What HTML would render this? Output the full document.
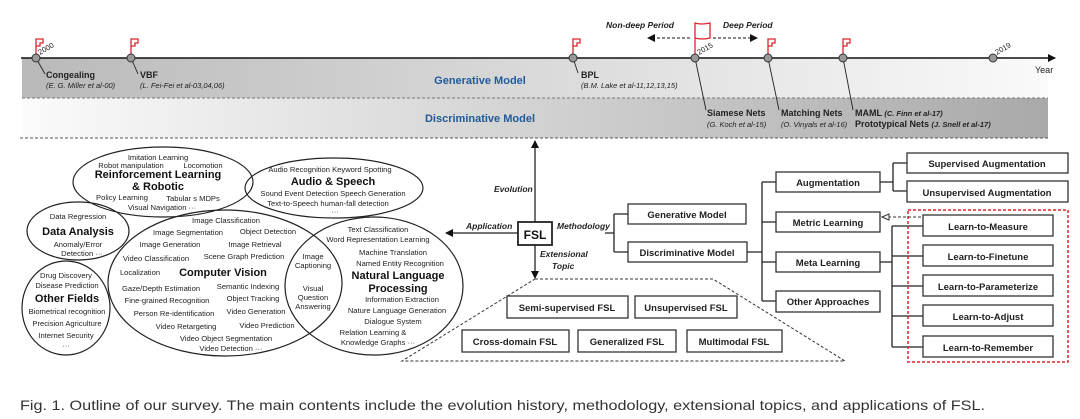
<!DOCTYPE html>
<html><head><meta charset="utf-8"><style>
html,body{margin:0;padding:0;background:#fff;}
svg{display:block;font-family:"Liberation Sans",sans-serif;}
.s{font-size:7.6px;fill:#222;text-anchor:middle;}
.b{font-size:11px;font-weight:bold;fill:#111;text-anchor:middle;}
.bx{fill:#fff;stroke:#333;stroke-width:1.3;}
.bt{font-size:9.5px;font-weight:bold;fill:#222;text-anchor:middle;}
.ln{stroke:#222;stroke-width:1.3;fill:none;}
.it{font-style:italic;font-weight:bold;font-size:8.5px;fill:#222;}
.ref{font-style:italic;font-size:7.5px;fill:#222;}
.nm{font-weight:bold;font-size:9px;fill:#222;}
</style></head><body>
<svg width="1080" height="419" viewBox="0 0 1080 419" xmlns="http://www.w3.org/2000/svg">
<defs>
<linearGradient id="g1" x1="0" x2="1"><stop offset="0" stop-color="#b9b9b9"/><stop offset="1" stop-color="#fafafa"/></linearGradient>
<linearGradient id="g2" x1="0" x2="1"><stop offset="0" stop-color="#fbfbfb"/><stop offset="1" stop-color="#a9a9a9"/></linearGradient>
<marker id="ah" markerWidth="8" markerHeight="8" refX="7" refY="4" orient="auto" markerUnits="userSpaceOnUse"><path d="M0,0 L8,4 L0,8z" fill="#111"/></marker>
<marker id="ao" markerWidth="9" markerHeight="8" refX="8" refY="4" orient="auto" markerUnits="userSpaceOnUse"><path d="M1,1 L8,4 L1,7z" fill="#fff" stroke="#333"/></marker>
</defs>
<!-- bands -->
<rect x="22" y="58" width="1026" height="40" fill="url(#g1)"/>
<rect x="22" y="98" width="1026" height="40" fill="url(#g2)"/>
<line x1="22" y1="98" x2="1048" y2="98" stroke="#777" stroke-dasharray="3,2"/>
<line x1="20" y1="138" x2="1050" y2="138" stroke="#555" stroke-dasharray="3,2"/>
<line x1="21" y1="58" x2="1055" y2="58" stroke="#111" stroke-width="1.5" marker-end="url(#ah)"/>
<text x="480" y="84" font-size="11" font-weight="bold" fill="#1f5a9a" text-anchor="middle">Generative Model</text>
<text x="480" y="122" font-size="11" font-weight="bold" fill="#1f5a9a" text-anchor="middle">Discriminative Model</text>
<text x="1035" y="73" font-size="9" fill="#222">Year</text>
<!-- flags -->
<g stroke="#d9262b" stroke-width="1.3" fill="none">
<path d="M36,56 V39 h7 v4 h-3 v3 h-4"/>
<path d="M131,56 V39 h7 v4 h-3 v3 h-4"/>
<path d="M573,56 V39 h7 v4 h-3 v3 h-4"/>
<path d="M695,56 V23 q6,2 15,0 v15 q-8,2 -15,0"/>
<path d="M768,56 V39 h7 v4 h-3 v3 h-4"/>
<path d="M843,56 V39 h7 v4 h-3 v3 h-4"/>
</g>
<!-- leader lines -->
<g stroke="#222" stroke-width="0.9">
<line x1="36" y1="58" x2="45" y2="74"/><line x1="131" y1="58" x2="138" y2="74"/>
<line x1="573" y1="58" x2="578" y2="73"/><line x1="695" y1="58" x2="706" y2="110"/>
<line x1="768" y1="58" x2="779" y2="110"/><line x1="843" y1="58" x2="853" y2="110"/>
</g>
<g fill="#999" stroke="#333" stroke-width="1">
<circle cx="36" cy="58" r="4"/><circle cx="131" cy="58" r="4"/><circle cx="573" cy="58" r="4"/>
<circle cx="695" cy="58" r="4"/><circle cx="768" cy="58" r="4"/><circle cx="843" cy="58" r="4"/><circle cx="993" cy="58" r="4"/>
</g>
<text x="40" y="55" font-size="7.5" fill="#222" transform="rotate(-30 40 55)">2000</text>
<text x="699" y="55" font-size="7.5" fill="#222" transform="rotate(-30 699 55)">2015</text>
<text x="997" y="55" font-size="7.5" fill="#222" transform="rotate(-30 997 55)">2019</text>
<text x="46" y="78" class="nm">Congealing</text><text x="46" y="88" class="ref">(E. G. Miller et al-00)</text>
<text x="140" y="78" class="nm">VBF</text><text x="140" y="88" class="ref">(L. Fei-Fei et al-03,04,06)</text>
<text x="581" y="78" class="nm">BPL</text><text x="581" y="88" class="ref">(B.M. Lake et al-11,12,13,15)</text>
<text x="707" y="116" class="nm">Siamese Nets</text><text x="707" y="127" class="ref">(G. Koch et al-15)</text>
<text x="781" y="116" class="nm">Matching Nets</text><text x="781" y="127" class="ref">(O. Vinyals et al-16)</text>
<text x="855" y="116" class="nm">MAML <tspan class="ref">(C. Finn et al-17)</tspan></text>
<text x="855" y="127" class="nm">Prototypical Nets <tspan class="ref">(J. Snell et al-17)</tspan></text>
<text x="606" y="28" class="it">Non-deep Period</text><text x="723" y="28" class="it">Deep Period</text>
<line x1="690" y1="38" x2="648" y2="38" stroke="#111" stroke-dasharray="3,2" marker-end="url(#ah)"/>
<line x1="713" y1="38" x2="757" y2="38" stroke="#111" stroke-dasharray="3,2" marker-end="url(#ah)"/>
<!-- FSL center -->
<line x1="535" y1="222" x2="535" y2="141" class="ln" marker-end="url(#ah)"/>
<line x1="518" y1="233" x2="446" y2="233" class="ln" marker-end="url(#ah)"/>
<line x1="535" y1="245" x2="535" y2="278" class="ln" marker-end="url(#ah)"/>
<rect x="518" y="222" width="34" height="23" fill="#fff" stroke="#222" stroke-width="1.8"/>
<text x="535" y="239" font-size="12" font-weight="bold" text-anchor="middle" fill="#111">FSL</text>
<text x="494" y="192" class="it">Evolution</text>
<text x="466" y="229" class="it">Application</text>
<text x="557" y="229" class="it">Methodology</text>
<text x="540" y="257" class="it">Extensional</text><text x="552" y="269" class="it">Topic</text>
<!-- trapezoid -->
<path d="M535,279 L713,279 L845,361 L402,361 Z" fill="none" stroke="#333" stroke-dasharray="3,2"/>
<rect x="507" y="296" width="121" height="22" class="bx"/><text x="567" y="311" class="bt">Semi-supervised FSL</text>
<rect x="635" y="296" width="102" height="22" class="bx"/><text x="686" y="311" class="bt">Unsupervised FSL</text>
<rect x="462" y="330" width="107" height="22" class="bx"/><text x="515" y="345" class="bt">Cross-domain FSL</text>
<rect x="578" y="330" width="98" height="22" class="bx"/><text x="627" y="345" class="bt">Generalized FSL</text>
<rect x="687" y="330" width="95" height="22" class="bx"/><text x="734" y="345" class="bt">Multimodal FSL</text>
<!-- methodology tree -->
<path class="ln" d="M605,233 H614 M614,214 V252 M614,214 H628 M614,252 H628"/>
<rect x="628" y="204" width="118" height="20" class="bx"/><text x="687" y="218" class="bt">Generative Model</text>
<rect x="628" y="242" width="119" height="20" class="bx"/><text x="687" y="256" class="bt">Discriminative Model</text>
<path class="ln" d="M747,252 H762 M762,182 V301 M762,182 H776 M762,222 H776 M762,262 H776 M762,301 H776"/>
<rect x="776" y="172" width="104" height="20" class="bx"/><text x="828" y="186" class="bt">Augmentation</text>
<rect x="776" y="212" width="104" height="20" class="bx"/><text x="828" y="226" class="bt">Metric Learning</text>
<rect x="776" y="252" width="104" height="20" class="bx"/><text x="828" y="266" class="bt">Meta Learning</text>
<rect x="776" y="291" width="104" height="21" class="bx"/><text x="828" y="305" class="bt">Other Approaches</text>
<path class="ln" d="M880,182 H893 M893,163 V191 M893,163 H907 M893,191 H907"/>
<rect x="907" y="153" width="161" height="20" class="bx"/><text x="987" y="167" class="bt">Supervised Augmentation</text>
<rect x="907" y="181" width="161" height="21" class="bx"/><text x="987" y="196" class="bt">Unsupervised Augmentation</text>
<path class="ln" d="M880,262 H892 M892,226 V347 M892,226 H923 M892,256 H923 M892,286 H923 M892,316 H923 M892,347 H923"/>
<rect x="908" y="210" width="160" height="152" fill="none" stroke="#d9262b" stroke-width="1.5" stroke-dasharray="3,2"/>
<line x1="921" y1="217" x2="882" y2="217" stroke="#333" stroke-dasharray="3,2" marker-end="url(#ao)"/>
<rect x="923" y="215" width="130" height="21" class="bx"/><text x="988" y="230" class="bt">Learn-to-Measure</text>
<rect x="923" y="245" width="130" height="21" class="bx"/><text x="988" y="260" class="bt">Learn-to-Finetune</text>
<rect x="923" y="275" width="130" height="21" class="bx"/><text x="988" y="290" class="bt">Learn-to-Parameterize</text>
<rect x="923" y="305" width="130" height="21" class="bx"/><text x="988" y="320" class="bt">Learn-to-Adjust</text>
<rect x="923" y="336" width="130" height="21" class="bx"/><text x="988" y="351" class="bt">Learn-to-Remember</text>
<!-- ellipses -->
<g fill="none" stroke="#222" stroke-width="1.2">
<ellipse cx="163" cy="182" rx="90" ry="35"/>
<ellipse cx="334" cy="188" rx="89" ry="30"/>
<ellipse cx="78" cy="231" rx="51" ry="29"/>
<ellipse cx="66" cy="308" rx="44" ry="47"/>
<ellipse cx="225" cy="283" rx="117" ry="73"/>
<ellipse cx="374" cy="286" rx="89" ry="69"/>
</g>
<text x="158" y="160" class="s">Imitation Learning</text>
<text x="131" y="168" class="s">Robot manipulation</text><text x="203" y="168" class="s">Locomotion</text>
<text x="158" y="178" class="b">Reinforcement Learning</text><text x="158" y="190" class="b">&amp; Robotic</text>
<text x="122" y="200" class="s">Policy Learning</text><text x="193" y="201" class="s">Tabular s MDPs</text>
<text x="162" y="210" class="s">Visual Navigation ···</text>
<text x="78" y="219" class="s">Data Regression</text><text x="78" y="235" class="b">Data Analysis</text>
<text x="78" y="247" class="s">Anomaly/Error</text><text x="82" y="256" class="s">Detection ···</text>
<text x="66" y="278" class="s">Drug Discovery</text><text x="67" y="288" class="s">Disease Prediction</text>
<text x="67" y="302" class="b">Other Fields</text><text x="67" y="314" class="s">Biometrical recognition</text>
<text x="67" y="326" class="s">Precision Agriculture</text><text x="66" y="338" class="s">Internet Security</text>
<text x="66" y="348" class="s">···</text>
<text x="226" y="223" class="s">Image Classification</text>
<text x="188" y="235" class="s">Image Segmentation</text><text x="268" y="234" class="s">Object Detection</text>
<text x="170" y="247" class="s">Image Generation</text><text x="255" y="247" class="s">Image Retrieval</text>
<text x="156" y="261" class="s">Video Classification</text><text x="244" y="259" class="s">Scene Graph Prediction</text>
<text x="140" y="275" class="s">Localization</text><text x="223" y="276" class="b">Computer Vision</text>
<text x="161" y="291" class="s">Gaze/Depth Estimation</text><text x="248" y="289" class="s">Semantic Indexing</text>
<text x="167" y="303" class="s">Fine-grained Recognition</text><text x="253" y="301" class="s">Object Tracking</text>
<text x="174" y="316" class="s">Person Re-identification</text><text x="256" y="314" class="s">Video Generation</text>
<text x="186" y="329" class="s">Video Retargeting</text><text x="267" y="328" class="s">Video Prediction</text>
<text x="226" y="341" class="s">Video Object Segmentation</text><text x="231" y="351" class="s">Video Detection ···</text>
<text x="313" y="259" class="s">Image</text><text x="313" y="268" class="s">Captioning</text>
<text x="313" y="291" class="s">Visual</text><text x="313" y="300" class="s">Question</text><text x="313" y="309" class="s">Answering</text>
<text x="330" y="172" class="s">Audio Recognition  Keyword Spotting</text>
<text x="333" y="185" class="b">Audio &amp; Speech</text>
<text x="333" y="196" class="s">Sound Event Detection   Speech Generation</text>
<text x="328" y="206" class="s">Text-to-Speech  human-fall detection</text>
<text x="335" y="214" class="s">···</text>
<text x="378" y="232" class="s">Text Classification</text>
<text x="378" y="242" class="s">Word Representation Learning</text>
<text x="393" y="255" class="s">Machine Translation</text>
<text x="400" y="266" class="s">Named Entity Recognition</text>
<text x="398" y="279" class="b">Natural Language</text><text x="398" y="292" class="b">Processing</text>
<text x="402" y="302" class="s">Information Extraction</text>
<text x="397" y="313" class="s">Nature Language Generation</text>
<text x="393" y="324" class="s">Dialogue System</text>
<text x="373" y="335" class="s">Relation Learning &amp;</text>
<text x="378" y="345" class="s">Knowledge Graphs ···</text>
<text x="20" y="410" font-size="14" fill="#333" textLength="965" lengthAdjust="spacingAndGlyphs">Fig. 1. Outline of our survey. The main contents include the evolution history, methodology, extensional topics, and applications of FSL.</text>
</svg>
</body></html>
